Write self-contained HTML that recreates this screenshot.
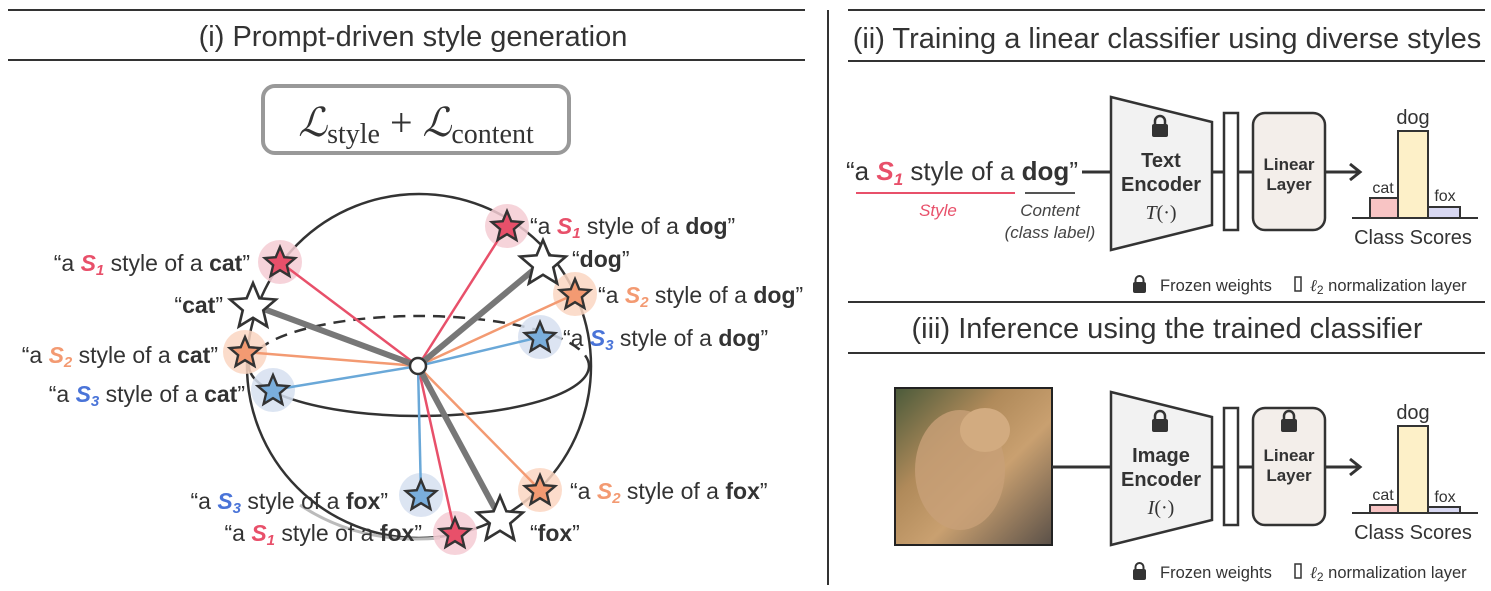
<!DOCTYPE html>
<html><head><meta charset="utf-8"><style>
html,body{margin:0;padding:0;background:#fff;}
svg{display:block;font-family:"Liberation Sans",sans-serif;}
.t{font-size:23px;fill:#333;}
.b{font-weight:bold;}
</style></head><body>
<svg width="1491" height="591" viewBox="0 0 1491 591" xmlns="http://www.w3.org/2000/svg">
<defs>
<polygon id="st" points="0,-1 0.265,-0.364 0.951,-0.309 0.428,0.139 0.588,0.809 0,0.45 -0.588,0.809 -0.428,0.139 -0.951,-0.309 -0.265,-0.364"/>
</defs>
<line x1="8" y1="10" x2="805" y2="10" stroke="#333" stroke-width="2"/>
<line x1="8" y1="60" x2="805" y2="60" stroke="#333" stroke-width="2"/>
<line x1="848" y1="10" x2="1485" y2="10" stroke="#333" stroke-width="2"/>
<line x1="848" y1="61" x2="1485" y2="61" stroke="#333" stroke-width="2"/>
<line x1="848" y1="302" x2="1485" y2="302" stroke="#333" stroke-width="2"/>
<line x1="848" y1="353" x2="1485" y2="353" stroke="#333" stroke-width="2"/>
<line x1="828" y1="10" x2="828" y2="585" stroke="#333" stroke-width="2"/>
<text x="413" y="46" text-anchor="middle" font-size="29" fill="#333">(i) Prompt-driven style generation</text>
<text x="1167" y="48" text-anchor="middle" font-size="29" fill="#333">(ii) Training a linear classifier using diverse styles</text>
<text x="1167" y="338" text-anchor="middle" font-size="29" fill="#333">(iii) Inference using the trained classifier</text>

<rect x="263" y="86" width="306" height="67" rx="12" fill="#fff" stroke="#999" stroke-width="4"/>
<text x="416" y="136" text-anchor="middle" font-family="'Liberation Serif',serif" font-size="40" fill="#333"><tspan font-style="italic">ℒ</tspan><tspan font-size="28" dy="7">style</tspan><tspan dy="-7"> + </tspan><tspan font-style="italic">ℒ</tspan><tspan font-size="28" dy="7">content</tspan></text>

<circle cx="419" cy="366" r="172" fill="none" stroke="#333" stroke-width="2.5"/>
<path d="M249,366 A170,50 0 0 1 589,366" fill="none" stroke="#333" stroke-width="2.5" stroke-dasharray="12,8"/>
<path d="M249,366 A170,50 0 0 0 589,366" fill="none" stroke="#333" stroke-width="2.5"/>
<path d="M300,505 Q360,545 440,538" fill="none" stroke="#bbb" stroke-width="3"/>

<g opacity="0.85">
<circle cx="280" cy="262" r="22" fill="#f5ccd4"/>
<circle cx="245" cy="352" r="22" fill="#fbd6c2"/>
<circle cx="273" cy="390" r="22" fill="#d6e0f0"/>
<circle cx="507" cy="226" r="22" fill="#f5ccd4"/>
<circle cx="575" cy="294" r="22" fill="#fbd6c2"/>
<circle cx="540" cy="337" r="22" fill="#d6e0f0"/>
<circle cx="540" cy="490" r="22" fill="#fbd6c2"/>
<circle cx="455" cy="533" r="22" fill="#f5ccd4"/>
<circle cx="421" cy="495" r="22" fill="#d6e0f0"/>
</g>
<g stroke-width="2.5">
<line x1="418" y1="366" x2="280" y2="262" stroke="#e8506a"/>
<line x1="418" y1="366" x2="507" y2="226" stroke="#e8506a"/>
<line x1="418" y1="366" x2="455" y2="533" stroke="#e8506a"/>
<line x1="418" y1="366" x2="245" y2="352" stroke="#f39a72"/>
<line x1="418" y1="366" x2="575" y2="294" stroke="#f39a72"/>
<line x1="418" y1="366" x2="540" y2="490" stroke="#f39a72"/>
<line x1="418" y1="366" x2="273" y2="390" stroke="#6aa8d8"/>
<line x1="418" y1="366" x2="540" y2="337" stroke="#6aa8d8"/>
<line x1="418" y1="366" x2="421" y2="495" stroke="#6aa8d8"/>
</g>
<g stroke="#777" stroke-width="6">
<line x1="418" y1="366" x2="253" y2="305"/>
<line x1="418" y1="366" x2="543" y2="262"/>
<line x1="418" y1="366" x2="500" y2="518"/>
</g>
<circle cx="418" cy="366" r="8" fill="#fff" stroke="#333" stroke-width="2.5"/>
<g stroke="#333" stroke-width="0.15" stroke-linejoin="miter">
<use href="#st" transform="translate(280,263) scale(16)" fill="#e8506a"/>
<use href="#st" transform="translate(507,227) scale(16)" fill="#e8506a"/>
<use href="#st" transform="translate(455,534) scale(16)" fill="#e8506a"/>
<use href="#st" transform="translate(245,353) scale(16)" fill="#f39a72"/>
<use href="#st" transform="translate(575,295) scale(16)" fill="#f39a72"/>
<use href="#st" transform="translate(540,491) scale(16)" fill="#f39a72"/>
<use href="#st" transform="translate(273,391) scale(16)" fill="#7aaedc"/>
<use href="#st" transform="translate(540,338) scale(16)" fill="#7aaedc"/>
<use href="#st" transform="translate(421,496) scale(16)" fill="#7aaedc"/>
</g>
<g stroke="#333" stroke-width="0.11" fill="#fff">
<use href="#st" transform="translate(253,307) scale(24)"/>
<use href="#st" transform="translate(543,264) scale(24)"/>
<use href="#st" transform="translate(500,520) scale(24)"/>
</g>
<g class="t">
<text x="250" y="271" text-anchor="end">“a <tspan class="b" font-style="italic" fill="#e8506a">S<tspan font-size="15" dy="4">1</tspan></tspan><tspan dy="-4"> style of a </tspan><tspan class="b">cat</tspan>”</text>
<text x="223" y="313" text-anchor="end">“<tspan class="b">cat</tspan>”</text>
<text x="218" y="363" text-anchor="end">“a <tspan class="b" font-style="italic" fill="#f39a72">S<tspan font-size="15" dy="4">2</tspan></tspan><tspan dy="-4"> style of a </tspan><tspan class="b">cat</tspan>”</text>
<text x="245" y="402" text-anchor="end">“a <tspan class="b" font-style="italic" fill="#4a74d8">S<tspan font-size="15" dy="4">3</tspan></tspan><tspan dy="-4"> style of a </tspan><tspan class="b">cat</tspan>”</text>
<text x="530" y="234">“a <tspan class="b" font-style="italic" fill="#e8506a">S<tspan font-size="15" dy="4">1</tspan></tspan><tspan dy="-4"> style of a </tspan><tspan class="b">dog</tspan>”</text>
<text x="572" y="267">“<tspan class="b">dog</tspan>”</text>
<text x="598" y="303">“a <tspan class="b" font-style="italic" fill="#f39a72">S<tspan font-size="15" dy="4">2</tspan></tspan><tspan dy="-4"> style of a </tspan><tspan class="b">dog</tspan>”</text>
<text x="563" y="346">“a <tspan class="b" font-style="italic" fill="#4a74d8">S<tspan font-size="15" dy="4">3</tspan></tspan><tspan dy="-4"> style of a </tspan><tspan class="b">dog</tspan>”</text>
<text x="570" y="499">“a <tspan class="b" font-style="italic" fill="#f39a72">S<tspan font-size="15" dy="4">2</tspan></tspan><tspan dy="-4"> style of a </tspan><tspan class="b">fox</tspan>”</text>
<text x="530" y="541">“<tspan class="b">fox</tspan>”</text>
<text x="388" y="509" text-anchor="end">“a <tspan class="b" font-style="italic" fill="#4a74d8">S<tspan font-size="15" dy="4">3</tspan></tspan><tspan dy="-4"> style of a </tspan><tspan class="b">fox</tspan>”</text>
<text x="422" y="541" text-anchor="end">“a <tspan class="b" font-style="italic" fill="#e8506a">S<tspan font-size="15" dy="4">1</tspan></tspan><tspan dy="-4"> style of a </tspan><tspan class="b">fox</tspan>”</text>
</g>

<text x="846" y="180" font-size="26" fill="#333">“a <tspan class="b" font-style="italic" fill="#e8506a">S<tspan font-size="17" dy="5">1</tspan></tspan><tspan dy="-5"> style of a </tspan><tspan class="b">dog</tspan>”</text>
<line x1="856" y1="193" x2="1015" y2="193" stroke="#e8506a" stroke-width="2"/>
<line x1="1025" y1="193" x2="1075" y2="193" stroke="#555" stroke-width="2"/>
<text x="938" y="216" text-anchor="middle" font-size="17" font-style="italic" fill="#e8506a">Style</text>
<text x="1050" y="216" text-anchor="middle" font-size="17" font-style="italic" fill="#444">Content</text>
<text x="1050" y="238" text-anchor="middle" font-size="17" font-style="italic" fill="#444">(class label)</text>

<line x1="1082" y1="172" x2="1112" y2="172" stroke="#333" stroke-width="3"/>
<polygon points="1111,97 1212,122 1212,225 1111,250" fill="#f2f2f2" stroke="#333" stroke-width="2.5"/>
<line x1="1212" y1="172" x2="1224" y2="172" stroke="#333" stroke-width="3"/>
<rect x="1224" y="113" width="14" height="117" fill="#fff" stroke="#333" stroke-width="2.5"/>
<line x1="1238" y1="172" x2="1253" y2="172" stroke="#333" stroke-width="3"/>
<rect x="1253" y="113" width="72" height="117" rx="12" fill="#f3eeea" stroke="#333" stroke-width="2.5"/>
<line x1="1325" y1="172" x2="1358" y2="172" stroke="#333" stroke-width="3"/>
<polyline points="1350,164 1360,172 1350,180" fill="none" stroke="#333" stroke-width="3"/>
<rect x="1152" y="124" width="16" height="13" rx="2" fill="#333"/>
<path d="M1155,125 v-4 a5,5 0 0 1 10,0 v4" fill="none" stroke="#333" stroke-width="2.5"/>
<text x="1161" y="167" text-anchor="middle" font-size="20" font-weight="bold" fill="#333">Text</text>
<text x="1161" y="191" text-anchor="middle" font-size="20" font-weight="bold" fill="#333">Encoder</text>
<text x="1161" y="219" text-anchor="middle" font-family="'Liberation Serif',serif" font-size="20" fill="#333"><tspan font-style="italic">T</tspan>(·)</text>
<text x="1289" y="170" text-anchor="middle" font-size="17" font-weight="bold" fill="#333">Linear</text>
<text x="1289" y="190" text-anchor="middle" font-size="17" font-weight="bold" fill="#333">Layer</text>
<rect x="1370" y="198" width="28" height="20" fill="#f8c4c4" stroke="#333" stroke-width="2"/>
<rect x="1398" y="131" width="30" height="87" fill="#fdf0c8" stroke="#333" stroke-width="2"/>
<rect x="1428" y="207" width="32" height="11" fill="#d8d8f2" stroke="#333" stroke-width="2"/>
<line x1="1352" y1="218" x2="1478" y2="218" stroke="#333" stroke-width="2"/>
<text x="1383" y="193" text-anchor="middle" font-size="16" fill="#333">cat</text>
<text x="1413" y="124" text-anchor="middle" font-size="20" fill="#333">dog</text>
<text x="1445" y="201" text-anchor="middle" font-size="16" fill="#333">fox</text>
<text x="1413" y="244" text-anchor="middle" font-size="20" fill="#333">Class Scores</text>
<rect x="1133" y="282" width="13" height="11" rx="2" fill="#333"/>
<path d="M1135.5,283 v-3 a4,4 0 0 1 8,0 v3" fill="none" stroke="#333" stroke-width="2"/>
<text x="1160" y="291" font-size="16.5" fill="#333">Frozen weights</text>
<rect x="1295" y="277" width="6" height="14" fill="#fff" stroke="#333" stroke-width="1.5"/>
<text x="1310" y="291" font-size="16.5" fill="#333"><tspan font-family="'Liberation Serif',serif" font-style="italic">ℓ</tspan><tspan font-size="12" dy="3">2</tspan><tspan dy="-3"> normalization layer</tspan></text>

<defs>
<linearGradient id="dog" x1="0" y1="0" x2="1" y2="1">
<stop offset="0" stop-color="#4a5a3a"/><stop offset="0.35" stop-color="#b08a5a"/><stop offset="0.6" stop-color="#c9a070"/><stop offset="1" stop-color="#5a5048"/>
</linearGradient>
</defs>
<rect x="895" y="388" width="157" height="157" fill="url(#dog)" stroke="#222" stroke-width="2"/>
<ellipse cx="960" cy="470" rx="45" ry="60" fill="#c8a078" opacity="0.8"/>
<ellipse cx="985" cy="430" rx="25" ry="22" fill="#d2ab80"/>
<g transform="translate(0,295)">
<line x1="1052" y1="172" x2="1112" y2="172" stroke="#333" stroke-width="3"/>
<polygon points="1111,97 1212,122 1212,225 1111,250" fill="#f2f2f2" stroke="#333" stroke-width="2.5"/>
<line x1="1212" y1="172" x2="1224" y2="172" stroke="#333" stroke-width="3"/>
<rect x="1224" y="113" width="14" height="117" fill="#fff" stroke="#333" stroke-width="2.5"/>
<line x1="1238" y1="172" x2="1253" y2="172" stroke="#333" stroke-width="3"/>
<rect x="1253" y="113" width="72" height="117" rx="12" fill="#f3eeea" stroke="#333" stroke-width="2.5"/>
<line x1="1325" y1="172" x2="1358" y2="172" stroke="#333" stroke-width="3"/>
<polyline points="1350,164 1360,172 1350,180" fill="none" stroke="#333" stroke-width="3"/>
<rect x="1152" y="124" width="16" height="13" rx="2" fill="#333"/>
<path d="M1155,125 v-4 a5,5 0 0 1 10,0 v4" fill="none" stroke="#333" stroke-width="2.5"/>
<text x="1161" y="167" text-anchor="middle" font-size="20" font-weight="bold" fill="#333">Image</text>
<text x="1161" y="191" text-anchor="middle" font-size="20" font-weight="bold" fill="#333">Encoder</text>
<text x="1161" y="219" text-anchor="middle" font-family="'Liberation Serif',serif" font-size="20" fill="#333"><tspan font-style="italic">I</tspan>(·)</text>
<rect x="1281" y="124" width="16" height="13" rx="2" fill="#333"/>
<path d="M1284,125 v-4 a5,5 0 0 1 10,0 v4" fill="none" stroke="#333" stroke-width="2.5"/>
<text x="1289" y="166" text-anchor="middle" font-size="17" font-weight="bold" fill="#333">Linear</text>
<text x="1289" y="186" text-anchor="middle" font-size="17" font-weight="bold" fill="#333">Layer</text>
<rect x="1370" y="210" width="28" height="8" fill="#f8c4c4" stroke="#333" stroke-width="2"/>
<rect x="1398" y="131" width="30" height="87" fill="#fdf0c8" stroke="#333" stroke-width="2"/>
<rect x="1428" y="212" width="32" height="6" fill="#d8d8f2" stroke="#333" stroke-width="2"/>
<line x1="1352" y1="218" x2="1478" y2="218" stroke="#333" stroke-width="2"/>
<text x="1383" y="205" text-anchor="middle" font-size="16" fill="#333">cat</text>
<text x="1413" y="124" text-anchor="middle" font-size="20" fill="#333">dog</text>
<text x="1445" y="207" text-anchor="middle" font-size="16" fill="#333">fox</text>
<text x="1413" y="244" text-anchor="middle" font-size="20" fill="#333">Class Scores</text>
<rect x="1133" y="274" width="13" height="11" rx="2" fill="#333"/>
<path d="M1135.5,275 v-3 a4,4 0 0 1 8,0 v3" fill="none" stroke="#333" stroke-width="2"/>
<text x="1160" y="283" font-size="16.5" fill="#333">Frozen weights</text>
<rect x="1295" y="269" width="6" height="14" fill="#fff" stroke="#333" stroke-width="1.5"/>
<text x="1310" y="283" font-size="16.5" fill="#333"><tspan font-family="'Liberation Serif',serif" font-style="italic">ℓ</tspan><tspan font-size="12" dy="3">2</tspan><tspan dy="-3"> normalization layer</tspan></text>
</g>
</svg>
</body></html>
